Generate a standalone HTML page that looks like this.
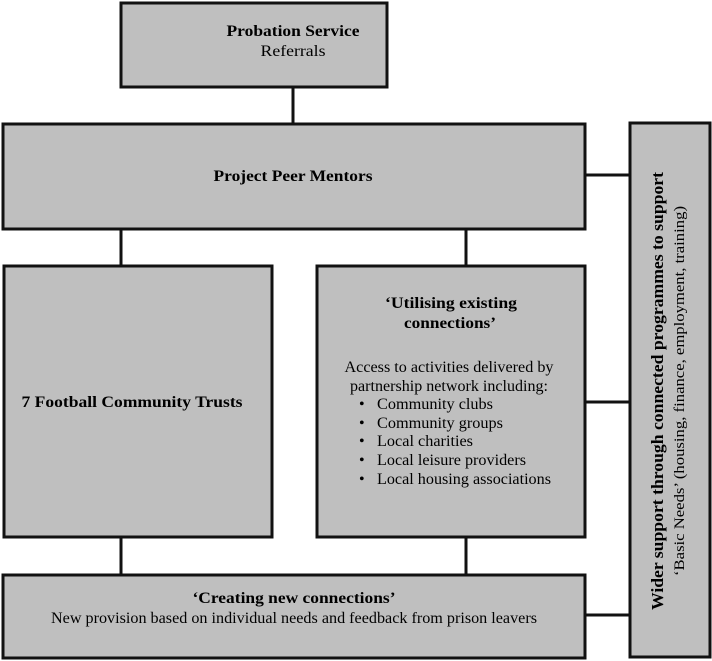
<!DOCTYPE html>
<html><head><meta charset="utf-8"><style>html,body{margin:0;padding:0;background:#fff}svg{display:block}</style></head>
<body>
<svg width="712" height="661" viewBox="0 0 712 661" xmlns="http://www.w3.org/2000/svg" font-family="Liberation Serif, serif" fill="#000">
<g stroke="#111" stroke-width="3" fill="none">
<line x1="293" y1="87" x2="293" y2="124"/>
<line x1="121" y1="229" x2="121" y2="266"/>
<line x1="466" y1="229" x2="466" y2="266"/>
<line x1="121" y1="537" x2="121" y2="575"/>
<line x1="466" y1="537" x2="466" y2="575"/>
<line x1="585" y1="175" x2="630" y2="175"/>
<line x1="585" y1="402" x2="630" y2="402"/>
<line x1="585" y1="615" x2="630" y2="615"/>
</g>
<g stroke="#111" stroke-width="3" fill="#bfbfbf">
<rect x="121" y="3" width="266" height="84"/>
<rect x="3" y="124" width="582" height="105"/>
<rect x="630" y="123" width="80" height="534"/>
<rect x="4" y="266" width="268" height="271"/>
<rect x="317" y="266" width="268" height="271"/>
<rect x="3" y="575" width="582" height="83"/>
</g>
<g font-size="16">
<text x="293" y="36" text-anchor="middle" font-weight="bold" textLength="133" lengthAdjust="spacingAndGlyphs">Probation Service</text>
<text x="293" y="56" text-anchor="middle" textLength="65" lengthAdjust="spacingAndGlyphs">Referrals</text>
<text x="293" y="181" text-anchor="middle" font-weight="bold" textLength="159" lengthAdjust="spacingAndGlyphs">Project Peer Mentors</text>
<text x="132" y="407" text-anchor="middle" font-weight="bold" textLength="221" lengthAdjust="spacingAndGlyphs">7 Football Community Trusts</text>
<text x="451" y="308" text-anchor="middle" font-weight="bold" textLength="132" lengthAdjust="spacingAndGlyphs">‘Utilising existing</text>
<text x="450" y="328" text-anchor="middle" font-weight="bold" textLength="92" lengthAdjust="spacingAndGlyphs">connections’</text>
<text x="449" y="372" text-anchor="middle" textLength="209" lengthAdjust="spacingAndGlyphs">Access to activities delivered by</text>
<text x="449" y="391" text-anchor="middle" textLength="198" lengthAdjust="spacingAndGlyphs">partnership network including:</text>
<text x="359" y="409">•</text><text x="377" y="409" textLength="116" lengthAdjust="spacingAndGlyphs">Community clubs</text>
<text x="359" y="428">•</text><text x="377" y="428" textLength="126" lengthAdjust="spacingAndGlyphs">Community groups</text>
<text x="359" y="446">•</text><text x="377" y="446" textLength="96" lengthAdjust="spacingAndGlyphs">Local charities</text>
<text x="359" y="465">•</text><text x="377" y="465" textLength="149" lengthAdjust="spacingAndGlyphs">Local leisure providers</text>
<text x="359" y="484">•</text><text x="377" y="484" textLength="174" lengthAdjust="spacingAndGlyphs">Local housing associations</text>
<text x="294" y="603" text-anchor="middle" font-weight="bold" textLength="203" lengthAdjust="spacingAndGlyphs">‘Creating new connections’</text>
<text x="294" y="623" text-anchor="middle" textLength="486" lengthAdjust="spacingAndGlyphs">New provision based on individual needs and feedback from prison leavers</text>
</g>
<g transform="translate(663,391) rotate(-90)">
<text x="0" y="0" text-anchor="middle" font-weight="bold" font-size="17" textLength="438" lengthAdjust="spacingAndGlyphs">Wider support through connected programmes to support</text>
<text x="0" y="21" text-anchor="middle" font-size="15" textLength="370" lengthAdjust="spacingAndGlyphs">‘Basic Needs’ (housing, finance, employment, training)</text>
</g>
</svg>
</body></html>
